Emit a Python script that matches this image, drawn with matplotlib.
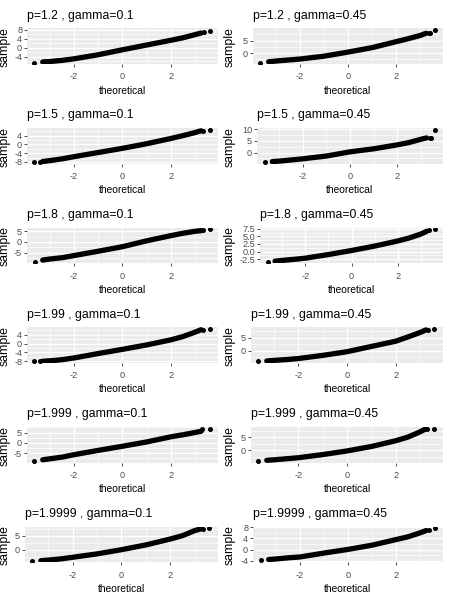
import matplotlib
matplotlib.use("Agg")
import matplotlib.pyplot as plt
from matplotlib import font_manager

plt.rcParams['axes.unicode_minus'] = False

# the reference is squeezed sideways, so horizontal text uses a narrow face
installed = {f.name for f in font_manager.fontManager.ttflist}
if 'Liberation Sans Narrow' in installed:
    hfam, hscale = ['Liberation Sans Narrow', 'DejaVu Sans'], 1.0
else:
    hfam, hscale = ['Liberation Sans', 'DejaVu Sans'], 0.82
plt.rcParams['font.family'] = hfam

# labels of the 6 x 2 grid of QQ plots
p_values = ["1.2", "1.5", "1.8", "1.99", "1.999", "1.9999"]
gammas = ["0.1", "0.45"]

# theoretical quantiles where the sample curve was read
theo = [-3.3, -3.0, -2.5, -2.0, -1.0, 0.0, 1.0, 2.0, 2.5, 3.0, 3.25]

# sample quantiles, gamma = 0.1 (one row per p)
curve_g01 = [
    [-6.3, -6.1, -5.6, -4.9, -3.1, -0.9, 1.2, 3.3, 4.4, 5.8, 6.5],
    [-7.8, -7.4, -6.6, -5.6, -3.7, -1.8, 0.3, 2.7, 4.0, 5.4, 6.2],
    [-8.4, -7.9, -7.3, -6.3, -4.3, -2.2, 0.5, 2.9, 4.0, 4.9, 5.2],
    [-8.0, -7.8, -7.3, -6.5, -4.5, -2.6, -0.6, 1.7, 3.2, 5.2, 6.3],
    [-8.3, -7.8, -7.0, -5.8, -3.7, -1.7, 0.4, 2.9, 3.9, 5.0, 5.6],
    [-3.9, -3.7, -3.3, -2.7, -1.5, 0.0, 1.7, 3.8, 5.0, 6.8, 7.4],
]
# sample quantiles, gamma = 0.45
curve_g045 = [
    [-3.5, -3.2, -2.8, -2.4, -1.25, 0.4, 2.2, 4.6, 5.8, 7.1, 8.0],
    [-3.9, -3.7, -3.2, -2.7, -1.5, 0.3, 1.6, 3.3, 4.3, 5.7, 6.3],
    [-3.2, -2.95, -2.6, -2.2, -1.0, 0.34, 1.8, 3.5, 4.5, 5.8, 6.7],
    [-3.8, -3.6, -3.3, -2.9, -1.7, -0.3, 1.7, 3.7, 5.3, 7.0, 8.0],
    [-3.9, -3.7, -3.3, -2.9, -1.7, -0.3, 1.4, 3.6, 5.0, 7.0, 8.2],
    [-3.5, -3.3, -2.9, -2.6, -1.2, 0.1, 1.6, 3.6, 4.6, 6.0, 6.8],
]

# isolated extreme points
tail_x_g01 = [
    [-3.65, 3.38, 3.6], [-3.65, -3.4, 3.35, 3.6], [-3.6, 3.35, 3.6],
    [-3.65, -3.4, 3.35, 3.6], [-3.65, 3.3, 3.6], [-3.65, 3.35, 3.6],
]
tail_y_g01 = [
    [-6.6, 6.9, 7.2], [-8.0, -7.9, 6.3, 6.6], [-9.1, 5.3, 5.8],
    [-8.0, -8.0, 6.4, 6.6], [-8.8, 6.6, 6.7], [-3.9, 7.5, 7.6],
]
tail_x_g045 = [
    [-3.65, 3.35, 3.42, 3.6], [-3.6, 3.38, 3.45, 3.6], [-3.6, 3.35, 3.6],
    [-3.65, 3.35, 3.6], [-3.65, 3.3, 3.6], [-3.6, 3.35, 3.6],
]
tail_y_g045 = [
    [-3.8, 8.3, 8.3, 9.2], [-4.0, 6.4, 6.4, 9.8], [-3.3, 7.0, 7.3],
    [-3.9, 8.1, 8.3], [-4.1, 8.2, 8.2], [-3.8, 7.1, 7.6],
]

ylims_g01 = [(-7.2, 8.6), (-8.8, 7.5), (-9.9, 6.6), (-8.8, 7.4), (-9.7, 7.7), (-4.5, 8.2)]
ylims_g045 = [(-4.4, 10.0), (-4.8, 10.6), (-3.9, 7.9), (-4.6, 9.0), (-4.8, 8.9), (-4.5, 8.2)]
yticks_g01 = [[-4, 0, 4, 8], [-8, -4, 0, 4], [-5, 0, 5], [-8, -4, 0, 4], [-5, 0, 5], [0, 5]]
yticks_g045 = [[0, 5], [0, 5, 10], [-2.5, 0.0, 2.5, 5.0, 7.5], [0, 5], [0, 5], [-4, 0, 4, 8]]
xticks = [-2, 0, 2]

# layout in pixels
W, H = 450, 598
row_h = H / 6
lefts = [[27, 253], [27, 257], [27, 260], [27, 251], [27, 251], [25, 253]]
rights = [218, 443]

fig = plt.figure(figsize=(W / 100, H / 100), dpi=100)


def minor_breaks(major, lo, hi):
    step = major[1] - major[0]
    mb = [m + step / 2 for m in major[:-1]]
    mb += [major[0] - step / 2, major[-1] + step / 2]
    return [m for m in mb if lo <= m <= hi]


def fmt(v, ticks):
    if any(t != int(t) for t in ticks):
        return f"{v:.1f}"
    return str(int(v))


for r in range(6):
    for c in range(2):
        curve = (curve_g01, curve_g045)[c][r]
        tx = (tail_x_g01, tail_x_g045)[c][r]
        ty = (tail_y_g01, tail_y_g045)[c][r]
        ylim = (ylims_g01, ylims_g045)[c][r]
        yt = (yticks_g01, yticks_g045)[c][r]

        top = r * row_h + 28.3
        bot = r * row_h + 64
        left = lefts[r][c]
        ax = fig.add_axes([left / W, 1 - bot / H, (rights[c] - left) / W, (bot - top) / H])
        ax.set_facecolor('#EBEBEB')
        ax.set_axisbelow(True)

        ax.plot(theo, curve, color='black', lw=3.8, solid_capstyle='round',
                solid_joinstyle='round', zorder=3)
        ax.plot(tx, ty, 'o', color='black', ms=3.6, mew=0, zorder=3)

        xlim = (-3.95, 3.95)
        ax.set_xlim(*xlim)
        ax.set_ylim(*ylim)
        ax.set_xticks(xticks)
        ax.set_xticklabels([str(t) for t in xticks])
        ax.set_yticks(yt)
        ax.set_yticklabels([fmt(t, yt) for t in yt])
        ax.set_xticks(minor_breaks(xticks, *xlim), minor=True)
        ax.set_yticks(minor_breaks(yt, *ylim), minor=True)

        ax.grid(which='major', color='white', lw=0.9)
        ax.grid(which='minor', color='white', lw=0.45)
        ax.tick_params(which='minor', length=0)
        ax.tick_params(which='major', length=2, width=0.6, color='#333333',
                       labelsize=8 * hscale, labelcolor='#4D4D4D')
        ax.tick_params(axis='x', pad=4)
        ax.tick_params(axis='y', pad=1.5)
        for s in ax.spines.values():
            s.set_visible(False)

        ax.set_title(f"p={p_values[r]} , gamma={gammas[c]}", loc='left',
                     fontsize=10.8 * hscale, pad=7)
        ax.set_xlabel('theoretical', fontsize=9 * hscale, labelpad=3)
        fig.text((c * 225 + 5) / W, 1 - (r * row_h + 47) / H, 'sample',
                 rotation=90, fontsize=8.8, ha='center', va='center',
                 family=['Liberation Sans', 'DejaVu Sans'])

fig.savefig('out.png', dpi=100)
